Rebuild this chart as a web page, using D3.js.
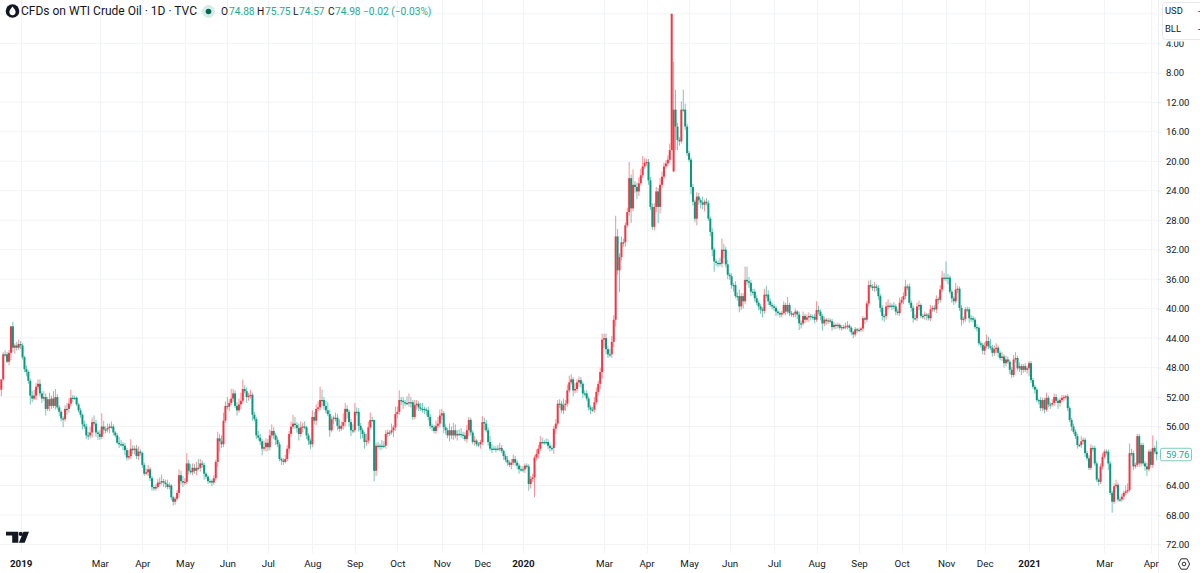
<!DOCTYPE html>
<html>
<head>
<meta charset="utf-8">
<script src="https://cdn.jsdelivr.net/npm/d3@7/dist/d3.min.js"></script>
<style>
html,body{margin:0;padding:0;background:#fff;overflow:hidden}
svg{display:block}
text{font-family:Roboto,"Noto Sans",sans-serif;fill:#131722}
</style>
</head>
<body>
<svg id="chart" width="1200" height="573"></svg>
<script>
// Daily closing prices, oldest first.
const closes = [
49.6,46.2,46.2,47.2,46.0,42.4,45.3,45.0,45.3,44.8,45.0,46.6,48.2,48.6,49.8,51.8,52.2,51.8,50.6,50.2,
51.5,52.2,52.0,53.6,52.3,53.2,52.2,53.2,52.0,53.4,54.0,54.9,55.0,53.6,53.6,52.9,52.1,52.1,52.1,53.0,
53.8,54.4,55.7,56.0,57.2,57.2,56.8,55.4,55.6,56.8,57.0,57.4,56.0,56.4,56.4,56.2,56.0,56.0,56.8,57.2,
58.2,58.4,58.4,58.6,59.2,60.2,60.0,59.0,59.2,59.0,60.0,59.4,59.6,61.2,62.4,62.2,61.8,63.0,64.2,64.4,
64.2,63.6,63.6,63.4,63.6,63.8,64.2,64.0,65.6,66.2,65.8,65.0,62.6,63.4,63.6,63.5,61.0,62.0,62.2,61.6,
62.0,61.6,61.6,61.0,61.2,62.4,62.8,63.4,63.4,63.6,63.0,60.8,57.6,58.0,58.4,55.2,53.2,53.3,52.8,52.2,
51.5,53.2,53.8,53.0,52.5,50.9,51.2,52.0,51.8,51.7,54.4,55.0,57.2,57.5,58.0,59.0,58.8,58.2,58.8,57.2,
56.6,57.2,57.8,58.4,60.4,60.6,60.8,60.4,59.0,57.0,56.0,55.6,55.8,56.2,57.0,56.1,56.0,56.1,57.2,57.9,
58.4,54.7,55.2,53.6,53.4,52.4,52.4,53.2,53.8,54.3,56.5,55.0,54.8,54.8,55.9,56.3,55.9,55.4,53.6,54.0,
55.4,56.5,56.5,54.0,54.0,55.9,56.5,57.0,58.1,57.9,56.1,55.1,55.1,62.0,58.6,58.6,58.6,58.6,58.6,57.0,
56.8,56.8,56.5,56.1,54.3,54.0,52.4,52.5,52.7,52.8,52.8,52.7,52.7,54.7,53.1,52.9,53.4,53.6,53.6,53.7,
53.8,54.7,55.9,56.1,56.6,55.9,55.6,54.5,54.2,56.1,56.5,57.2,56.5,57.2,56.5,57.2,57.0,57.0,57.1,57.2,
57.7,56.5,55.1,56.8,58.1,57.9,58.4,58.4,58.1,55.4,55.6,56.5,58.1,59.0,59.0,59.0,59.0,59.0,58.9,59.3,
60.0,60.5,60.9,61.2,60.9,60.4,60.9,61.3,61.8,61.8,61.8,61.3,61.4,63.8,63.1,62.9,60.2,59.7,59.0,58.1,
58.1,58.1,58.1,58.6,58.9,58.9,56.3,55.6,52.9,52.9,53.8,53.1,52.9,51.1,50.0,49.6,51.1,50.9,50.0,49.7,
50.2,51.5,51.5,52.2,53.4,53.7,53.7,52.7,51.3,50.2,48.6,44.2,44.0,45.5,46.2,46.2,44.5,41.5,30.2,34.8,
33.0,31.0,31.0,28.7,26.9,22.3,26.4,23.2,23.5,24.1,23.0,21.9,20.7,20.2,20.1,22.6,26.2,28.9,26.2,24.1,
26.2,23.2,22.1,20.7,20.3,19.8,18.5,0.0,13.0,15.3,17.1,17.3,13.0,13.0,15.3,18.9,19.8,23.5,25.5,27.8,
24.8,25.3,25.6,25.9,25.5,25.7,27.8,29.6,32.0,33.6,33.8,33.8,33.9,32.0,32.0,34.0,35.4,35.6,36.8,36.8,
38.3,38.3,39.7,38.3,39.0,36.1,36.3,36.5,37.7,37.7,38.6,39.2,39.7,40.1,40.3,38.1,38.1,39.0,39.5,39.7,
39.9,40.4,40.6,40.8,40.6,39.5,40.4,39.5,40.6,40.8,40.7,40.4,40.8,42.0,42.0,41.0,41.5,41.2,41.0,41.1,
41.1,41.5,40.2,40.4,41.0,42.0,41.5,41.7,41.6,41.7,42.5,42.2,42.3,42.2,42.6,42.5,42.5,42.4,42.3,42.6,
43.2,43.5,42.8,42.9,42.9,42.7,41.3,41.5,39.3,36.8,37.0,37.2,37.0,37.2,38.3,39.9,41.0,41.0,39.7,39.6,
39.6,39.6,39.7,40.4,40.6,39.2,38.8,38.3,37.0,37.0,39.2,39.9,41.3,41.3,39.7,39.5,41.0,41.0,40.8,40.9,
41.3,40.1,39.9,40.1,38.7,38.8,37.4,35.8,35.8,35.8,35.8,37.7,38.6,39.0,37.4,37.3,39.9,41.5,41.4,40.1,
40.1,41.3,41.3,41.5,42.5,42.6,44.7,44.9,45.7,45.1,44.4,45.1,45.3,46.0,45.5,45.3,46.0,46.7,46.5,47.4,
46.9,47.2,48.3,49.0,46.9,46.7,48.1,47.8,48.3,47.8,48.3,48.1,47.4,49.7,50.6,51.0,52.4,52.4,53.5,52.4,
53.7,52.1,53.0,53.0,52.8,52.0,52.5,52.8,52.4,52.1,52.0,51.9,53.5,55.1,56.0,56.7,57.3,58.5,58.5,58.0,
57.8,59.6,60.3,61.6,58.9,58.9,61.0,63.2,63.5,61.4,60.1,59.4,59.4,61.0,65.0,66.2,64.1,63.9,65.9,65.9,
65.5,65.0,64.8,64.6,59.6,59.6,61.4,61.2,57.3,61.0,58.5,61.0,61.4,61.8,59.4,61.2,58.9,59.4,59.76
];

// Sessions that did not open at the previous close, by position in closes.
const openGaps = {0: 51.0, 348: 21.4};

// Distance from the body to the session low, in tenths of a dollar.
const lowWickTenths = [
0,3,5,3,4,0,6,3,5,6,4,3,2,5,2,3,6,8,5,6,
6,3,8,5,3,9,4,10,11,4,3,2,3,5,8,7,11,4,3,2,
2,3,2,5,4,5,8,6,9,5,3,5,18,8,4,6,4,7,3,2,
3,8,6,3,4,3,8,13,5,4,5,7,3,2,3,5,6,3,3,2,
4,5,7,9,3,4,6,4,2,2,3,4,8,6,7,5,14,5,9,6,
5,8,12,6,4,3,2,2,3,2,4,3,9,6,8,11,6,12,5,13,
6,4,5,8,11,13,5,5,4,7,3,4,3,6,5,3,9,6,5,8,
9,5,3,4,3,2,3,6,5,4,7,12,9,4,6,8,5,7,2,3,
3,9,7,6,8,18,14,4,7,11,6,4,3,7,5,9,6,12,8,5,
3,4,8,12,6,5,4,3,3,9,8,10,4,0,4,5,3,8,6,5,
4,3,9,3,10,7,13,4,5,3,9,12,7,3,7,5,3,6,8,3,
3,5,4,3,3,7,9,8,6,3,4,3,9,5,10,8,5,6,8,4,
4,7,4,3,3,6,2,3,3,8,6,5,4,8,6,4,3,5,7,4,
2,3,5,3,5,6,4,3,3,5,4,3,3,3,4,5,3,6,5,8,
6,3,5,4,3,3,4,6,5,6,4,9,5,8,9,7,3,8,4,5,
4,3,4,4,3,3,4,7,6,4,6,8,6,6,5,7,8,6,28,10,
5,8,5,4,6,22,5,21,5,6,8,9,14,6,4,4,5,5,5,6,
5,9,7,5,4,6,9,0,65,27,5,4,11,27,8,4,3,3,4,3,
6,5,3,8,3,5,4,3,5,3,3,3,7,15,8,4,6,3,4,3,
5,5,9,4,4,18,18,6,4,4,4,4,3,3,3,8,12,6,4,3,
3,3,3,2,3,5,3,11,3,3,2,4,2,4,4,6,3,4,5,3,
3,4,12,6,3,3,4,2,3,3,3,4,2,3,2,3,3,5,6,2,
2,2,3,2,3,2,3,2,3,6,7,3,6,3,4,3,4,3,6,9,
4,3,5,3,3,7,4,5,9,3,4,3,3,5,5,6,2,3,4,2,
3,6,3,4,5,3,6,9,6,22,5,3,3,3,9,4,3,4,3,3,
4,3,4,3,3,4,2,3,3,5,9,6,10,4,5,6,3,3,6,3,
5,4,3,4,6,8,3,5,3,3,4,3,3,3,3,3,3,2,4,3,
3,7,3,3,5,5,4,3,3,4,3,2,3,3,3,4,3,3,2,7,
3,3,3,4,5,3,3,3,2,4,5,3,3,3,3,3,4,7,3,3,
4,3,8,9,13,6,3,3,3,3,3,3,3,5,3,3,17,3,15
];

// Distance from the body to the session high, in tenths of a dollar.
const highWickTenths = [
9,2,3,2,5,10,6,8,4,3,5,3,4,6,4,12,5,2,6,4,
4,6,3,9,3,7,4,3,5,3,6,4,11,3,8,5,4,6,3,2,
3,4,7,3,5,6,4,7,3,6,8,4,3,6,5,4,7,3,4,3,
2,5,3,6,7,4,3,4,5,6,4,5,3,4,3,2,5,4,5,3,
3,2,4,3,6,5,3,3,4,5,4,2,6,5,6,3,3,5,3,4,
4,6,3,5,4,8,3,4,3,5,3,3,7,14,5,4,3,4,6,3,
5,3,7,3,6,4,3,8,5,4,8,3,5,4,5,9,3,6,5,4,
3,5,7,4,3,6,4,2,3,7,4,3,5,6,9,4,7,3,5,6,
7,4,5,6,3,4,8,5,4,3,9,3,7,5,6,4,3,5,6,9,
6,8,4,3,5,8,12,6,9,5,4,3,3,14,7,4,6,5,3,4,
4,5,3,9,5,6,4,6,9,4,3,5,7,4,3,6,5,3,5,6,
7,5,4,5,3,4,3,5,6,8,6,4,8,5,6,4,7,3,4,5,
3,5,8,4,3,5,3,4,6,4,9,3,5,3,6,2,5,3,4,3,
5,3,4,3,6,3,4,5,6,3,4,5,3,9,6,4,27,4,6,3,
3,4,3,5,5,4,8,7,3,6,4,5,8,4,3,3,8,4,5,6,
5,6,4,3,4,6,3,4,3,5,7,9,11,7,5,4,5,7,9,6,
30,5,6,6,3,5,20,4,8,10,6,3,4,3,4,6,4,4,5,7,
22,9,4,3,3,4,4,0,0,32,14,6,3,3,5,4,3,10,5,5,
9,6,8,6,9,3,3,6,9,14,4,6,3,5,12,4,6,5,5,9,
3,6,8,5,10,4,5,7,6,5,4,3,5,6,9,4,5,5,3,4,
4,6,3,4,4,2,5,3,4,3,4,5,6,9,7,3,5,3,6,5,
4,5,3,4,6,10,4,5,4,3,5,3,5,4,3,4,3,3,4,5,
4,5,3,4,2,3,4,6,3,4,3,4,5,4,5,6,6,8,5,4,
3,6,4,5,3,4,3,6,4,5,3,5,6,3,4,5,3,4,5,7,
3,4,3,3,5,6,4,3,4,5,9,3,6,5,3,5,4,8,5,4,
4,6,5,4,3,5,3,4,5,6,3,4,3,5,4,5,6,3,4,6,
4,3,6,4,3,4,3,5,7,4,3,5,11,4,3,5,3,6,4,4,
5,3,4,6,3,4,3,8,5,3,5,3,4,3,6,3,4,5,3,4,
4,5,3,3,3,5,3,3,5,3,4,3,5,9,3,15,3,3,3,3,
3,5,3,3,3,4,5,3,3,5,4,3,6,9,3,4,4,3,8
];

// Time axis: position of each labelled session in closes, and its label.
const timeTickIndex = [10,51,73,95,117,138,161,183,205,228,249,270,312,334,356,377,400,422,444,466,489,509,532,571,595];
const timeTickLabels = ["2019","Mar","Apr","May","Jun","Jul","Aug","Sep","Oct","Nov","Dec","2020","Mar","Apr","May","Jun","Jul","Aug","Sep","Oct","Nov","Dec","2021","Mar","Apr"];
const yearLabels = ["2019","2020","2021"];

// Price axis runs top-down; the 0 line is drawn but sits unlabelled under the corner box.
const priceGridLines = d3.range(0, 73, 4);
const priceTicks = d3.range(4, 73, 4);
const lastPrice = 59.76;

const UP = "#089981", DOWN = "#f23645", GRID = "#f1f3f6", INK = "#131722", LEGEND_UP = "#22ab94";

const candles = closes.map((c, i) => {
  const o = openGaps[i] !== undefined ? openGaps[i] : (i ? closes[i - 1] : c);
  return {
    i, o, c,
    h: Math.max(o, c) + highWickTenths[i] / 10,
    l: Math.max(0, Math.min(o, c) - lowWickTenths[i] / 10)
  };
});

const plotRight = 1158, plotBottom = 553;
const x = d3.scaleLinear().domain([0, closes.length - 1]).range([1.3, 1156.6]);
const y = d3.scaleLinear().domain([0, 72]).range([13.8, 544.5]);

const svg = d3.select("#chart");

// Grid
const grid = svg.append("g");
grid.selectAll("line.h").data(priceGridLines).join("line").attr("class", "h")
  .attr("x1", 0).attr("x2", plotRight)
  .attr("y1", d => y(d)).attr("y2", d => y(d))
  .attr("stroke", GRID);
grid.selectAll("line.v").data(timeTickIndex).join("line").attr("class", "v")
  .attr("x1", d => Math.round(x(d)) + .5).attr("x2", d => Math.round(x(d)) + .5)
  .attr("y1", 0).attr("y2", plotBottom)
  .attr("stroke", GRID);
grid.append("line").attr("x1", plotRight + .5).attr("x2", plotRight + .5)
  .attr("y1", 0).attr("y2", 573).attr("stroke", "#f0f1f4");

// Candles: thin translucent wicks under solid bodies
const isUp = d => d.c >= d.o;
const marks = svg.append("g");
marks.selectAll("line").data(candles).join("line")
  .attr("x1", d => x(d.i)).attr("x2", d => x(d.i))
  .attr("y1", d => y(d.h)).attr("y2", d => y(d.l))
  .attr("stroke", d => isUp(d) ? UP : DOWN)
  .attr("stroke-opacity", .55)
  .attr("stroke-width", 1);
marks.selectAll("rect").data(candles).join("rect")
  .attr("x", d => x(d.i) - 1).attr("width", 2)
  .attr("y", d => Math.min(y(d.o), y(d.c)))
  .attr("height", d => Math.max(1.2, Math.abs(y(d.o) - y(d.c))))
  .attr("fill", d => isUp(d) ? UP : DOWN);

// Price axis
const yAxis = d3.axisRight(y).tickValues(priceTicks).tickSize(3).tickPadding(5)
  .tickFormat(d3.format(".2f"));
const gy = svg.append("g").attr("transform", `translate(${plotRight},0)`).call(yAxis);
gy.select(".domain").remove();
gy.selectAll("line").attr("stroke", "#e6e8ec");
gy.selectAll("text").style("font-size", "9.5px").style("letter-spacing", "-0.15px").style("fill", INK);

// Time axis
const xAxis = d3.axisBottom(x).tickValues(timeTickIndex).tickSize(0).tickPadding(0)
  .tickFormat((d, i) => timeTickLabels[i]);
const gx = svg.append("g").attr("transform", "translate(0,560)").call(xAxis);
gx.select(".domain").remove();
gx.selectAll("text")
  .attr("y", 0).attr("dy", "0.72em")
  .style("font-size", "9.8px")
  .style("fill", INK)
  .style("font-weight", t => yearLabels.includes(timeTickLabels[timeTickIndex.indexOf(t)]) ? 700 : 400);

// Last price tag
const tag = svg.append("g");
tag.append("rect").attr("x", 1160.5).attr("y", y(lastPrice) - 6).attr("width", 31).attr("height", 12.5)
  .attr("rx", 1.5).attr("fill", "#fff").attr("stroke", "#7fcdbb").attr("stroke-width", 1);
tag.append("text").attr("x", 1166).attr("y", y(lastPrice)).attr("dy", "0.35em")
  .style("font-size", "9.5px").style("letter-spacing", "-0.15px").style("fill", LEGEND_UP).text(d3.format(".2f")(lastPrice));

// Currency and unit box in the scale corner, with a white margin below it
const box = svg.append("g");
box.append("rect").attr("x", 1160).attr("y", 0).attr("width", 40).attr("height", 41.5).attr("fill", "#fff");
box.append("rect").attr("x", 1162.5).attr("y", 2.5).attr("width", 42).attr("height", 37)
  .attr("rx", 3).attr("fill", "#fff").attr("stroke", "#e6e8ec");
[["USD", 11], ["BLL", 29]].forEach(([t, cy]) => {
  box.append("text").attr("x", 1165).attr("y", cy).attr("dy", "0.35em")
    .style("font-size", "9.4px").text(t);
  box.append("text").attr("x", 1198).attr("y", cy).attr("dy", "0.35em")
    .style("font-size", "9.4px").text("-");
});

// Legend line
const legend = svg.append("g");
legend.append("circle").attr("cx", 12.5).attr("cy", 11).attr("r", 6.8).attr("fill", "#131722");
legend.append("path").attr("d", "M12.5 6.6C14.4 9 15.6 10.4 15.6 12.1A3.1 3.1 0 0 1 9.4 12.1C9.4 10.4 10.6 9 12.5 6.6Z").attr("fill", "#fff");
legend.append("text").attr("x", 21).attr("y", 11).attr("dy", "0.35em")
  .style("font-size", "12px").text("CFDs on WTI Crude Oil · 1D · TVC");
legend.append("circle").attr("cx", 208.5).attr("cy", 11.5).attr("r", 6.5).attr("fill", "#d6ece9");
legend.append("circle").attr("cx", 208.5).attr("cy", 11.5).attr("r", 2.8).attr("fill", "#056656");

const legendItems = [
  [221, "O", 229, "74.88"], [257, "H", 265, "75.75"], [293, "L", 299, "74.57"], [328, "C", 335, "74.98"]
];
legendItems.forEach(([kx, k, vx, v]) => {
  legend.append("text").attr("x", kx).attr("y", 11).attr("dy", "0.35em").style("font-size", "10.2px").text(k);
  legend.append("text").attr("x", vx).attr("y", 11).attr("dy", "0.35em").style("font-size", "10.2px").style("fill", LEGEND_UP).text(v);
});
legend.append("text").attr("x", 363).attr("y", 11).attr("dy", "0.35em").style("font-size", "10.2px").style("fill", LEGEND_UP).text("−0.02 (−0.03%)");

// Platform mark, lower left
const mark = svg.append("g").attr("fill", "#131722");
mark.append("path").attr("d", "M6 531.7H18.3V542.7H12.2V535.6H6Z");
mark.append("circle").attr("cx", 20.8).attr("cy", 533.9).attr("r", 2.1);
mark.append("path").attr("d", "M23.4 531.7H29L24.7 542.7H18.9Z");

// Scale settings icon
const gear = svg.append("g").attr("fill", "none").attr("stroke", "#2a2e39").attr("stroke-width", 1);
gear.append("circle").attr("cx", 1184).attr("cy", 564).attr("r", 1.8);
gear.append("path").attr("d", "M1181 558.8H1187L1189.6 564L1187 569.2H1181L1178.4 564Z").attr("stroke-linejoin", "round");
</script>
</body>
</html>
